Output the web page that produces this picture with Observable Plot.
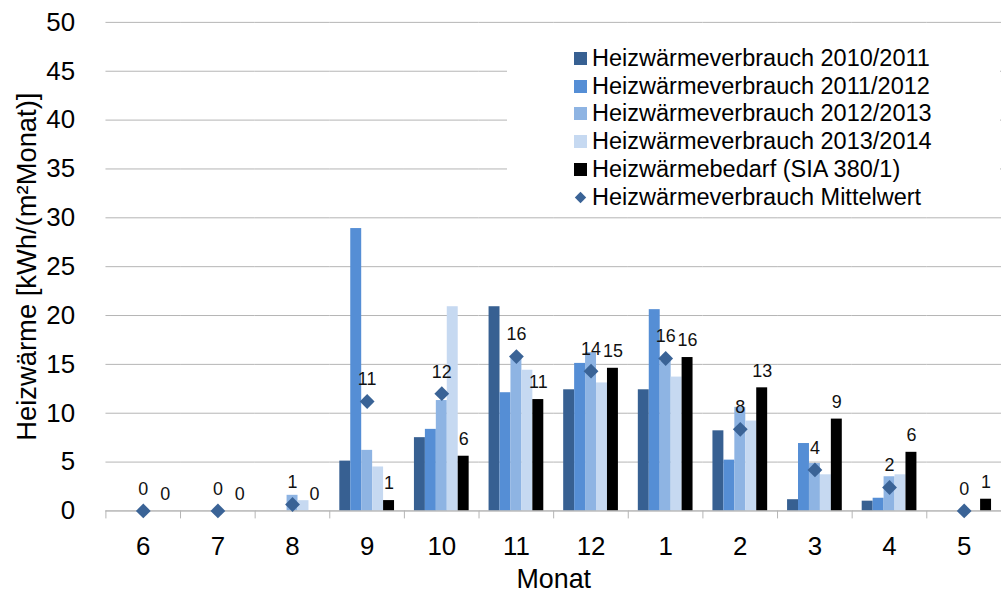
<!DOCTYPE html>
<html><head><meta charset="utf-8">
<script src="https://cdn.jsdelivr.net/npm/d3@7"></script>
<script src="https://cdn.jsdelivr.net/npm/@observablehq/plot@0.6"></script>
<style>
html,body{margin:0;padding:0;background:#fff;overflow:hidden;}
#wrap{position:relative;width:1002px;height:596px;overflow:hidden;font-family:"Liberation Sans",Arial,sans-serif;}
#wrap svg{position:absolute;left:0;top:0;}
#legend{position:absolute;left:507px;top:30px;width:493px;height:184px;padding-top:14.4px;box-sizing:border-box;background:#fff;}
.row{display:flex;align-items:center;height:27.8px;padding-left:67px;font-size:23.5px;color:#000;white-space:nowrap;}
.sw{width:13px;height:13px;margin-right:5px;flex:none;}
</style>
</head><body><div id="wrap"></div>
<script>
// ---- data ----
const months = ["6","7","8","9","10","11","12","1","2","3","4","5"];
const seriesNames = [
  "Heizwärmeverbrauch 2010/2011",
  "Heizwärmeverbrauch 2011/2012",
  "Heizwärmeverbrauch 2012/2013",
  "Heizwärmeverbrauch 2013/2014",
  "Heizwärmebedarf (SIA 380/1)"
];
const meanName = "Heizwärmeverbrauch Mittelwert";
const v2010 = [0, 0, 0, 5.1, 7.5, 20.9, 12.4, 12.4, 8.2, 1.15, 1.0, 0];
const v2011 = [0, 0, 0, 28.9, 8.35, 12.1, 15.1, 20.6, 5.2, 6.9, 1.3, 0];
const v2012 = [0, 0, 1.6, 6.2, 11.3, 15.7, 16.2, 15.3, 10.6, 4.85, 3.5, 0];
const v2013 = [0, 0, 1.05, 4.5, 20.9, 14.4, 13.1, 13.7, 9.2, 3.7, 3.7, 0];
const sia   = [0, 0, 0, 1.06, 5.6, 11.4, 14.6, 15.7, 12.6, 9.4, 6.0, 1.2];
const meanV = [0, 0, 0.66, 11.2, 12.0, 15.8, 14.3, 15.6, 8.35, 4.2, 2.4, 0];
const yTicks = [0, 5, 10, 15, 20, 25, 30, 35, 40, 45, 50];
const colors = ["#376092", "#558ED5", "#8EB4E3", "#C6D9F1", "#000000"];
const meanColor = "#3A6396";

// ---- tables ----
const seriesValues = [v2010, v2011, v2012, v2013, sia];
const rows = months.flatMap((m, i) => seriesNames.map((s, j) => ({month: m, series: s, value: seriesValues[j][i]})));
const meanRows = months.map((m, i) => ({month: m, value: meanV[i]}));
const siaRows = months.map((m, i) => ({month: m, series: seriesNames[4], value: sia[i]}));

const W = 1007, H = 596, ML = 105, MR = 0, MT = 22, MB = 83;
const step = (W - ML - MR) / months.length;
const gray = "#b4b4b4";

const chart = Plot.plot({
  width: W, height: H,
  marginLeft: ML, marginRight: MR, marginTop: MT, marginBottom: MB,
  style: {fontFamily: '"Liberation Sans", Arial, sans-serif', color: "#000", background: "transparent"},
  fx: {domain: months, padding: 0, label: null},
  x: {domain: seriesNames, paddingInner: 0, paddingOuter: 0.78, axis: null},
  y: {domain: [0, 50]},
  color: {domain: seriesNames, range: colors},
  marks: [
    Plot.gridY(yTicks, {stroke: gray, strokeOpacity: 1}),
    Plot.axisY(yTicks, {tickSize: 0, tickPadding: 31, fontSize: 26, label: null}),
    Plot.axisY(yTicks, {tickSize: 0, tickFormat: () => "", fontSize: 27.5, label: "Heizwärme [kWh/(m²Monat)]", labelAnchor: "center", labelArrow: "none", labelOffset: 90}),
    Plot.axisFx({anchor: "bottom", tickSize: 0, tickPadding: 26, fontSize: 26, label: null}),
    Plot.axisFx({anchor: "bottom", tickSize: 0, tickFormat: () => "", fontSize: 27, label: "Monat", labelAnchor: "center", labelArrow: "none", labelOffset: 77}),
    Plot.axisFx({anchor: "bottom", tickSize: 8, tickFormat: () => "", dx: -step / 2, stroke: gray, label: null}),
    Plot.barY(rows, {fx: "month", x: "series", y: "value", fill: "series"}),
    Plot.ruleY([0], {stroke: gray}),
    Plot.dot(meanRows, {fx: "month", y: "value", symbol: "diamond2", r: 6.7, fill: meanColor, stroke: "none"}),
    Plot.text(meanRows, {fx: "month", y: "value", text: d => String(Math.round(d.value)), dy: -22, fontSize: 18, fill: "#111"}),
    Plot.text(siaRows, {fx: "month", x: "series", y: "value", text: d => String(Math.round(d.value)), dy: -17, fontSize: 18, fill: "#111"})
  ]
});
const wrap = document.getElementById("wrap");
wrap.appendChild(chart);

// ---- legend (inside plot area, top right) ----
const legend = document.createElement("div");
legend.id = "legend";
const items = seriesNames.map((s, i) => ({label: s, color: colors[i], type: "sq"}))
  .concat([{label: meanName, color: meanColor, type: "dia"}]);
for (const it of items) {
  const row = document.createElement("div");
  row.className = "row";
  if (it.type === "sq") {
    const sw = document.createElement("span");
    sw.className = "sw";
    sw.style.background = it.color;
    row.appendChild(sw);
  } else {
    const ns = "http://www.w3.org/2000/svg";
    const svg = document.createElementNS(ns, "svg");
    svg.setAttribute("width", "13"); svg.setAttribute("height", "13");
    svg.setAttribute("class", "sw");
    svg.style.position = "static";
    const p = document.createElementNS(ns, "path");
    p.setAttribute("d", "M6.5,0.8L12.2,6.5L6.5,12.2L0.8,6.5Z");
    p.setAttribute("fill", it.color);
    svg.appendChild(p);
    row.appendChild(svg);
  }
  const t = document.createElement("span");
  t.textContent = it.label;
  row.appendChild(t);
  legend.appendChild(row);
}
wrap.appendChild(legend);
</script>
</body></html>
